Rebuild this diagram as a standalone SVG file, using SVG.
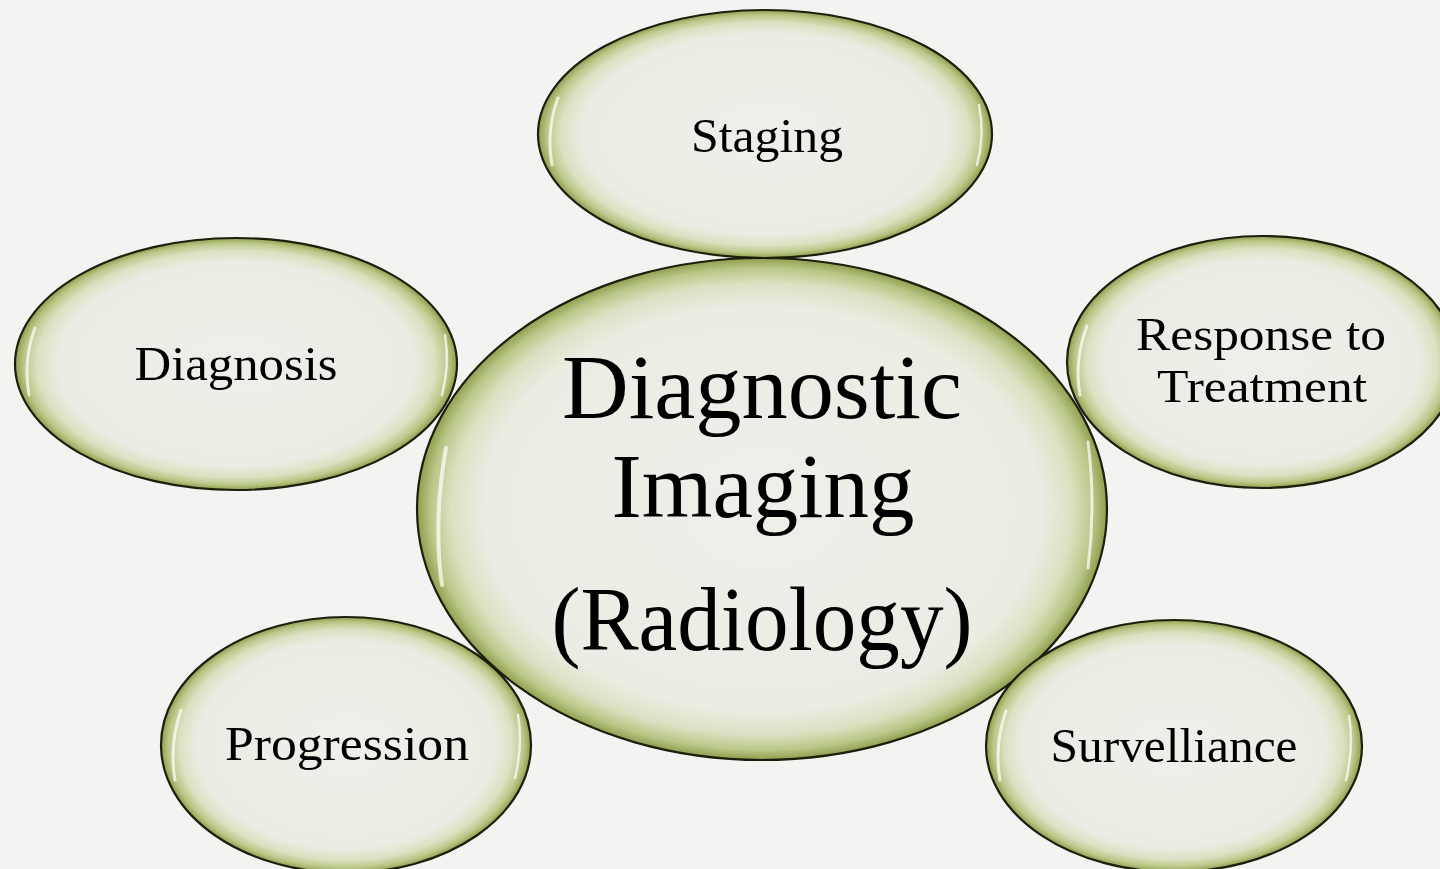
<svg xmlns="http://www.w3.org/2000/svg" width="1440" height="869" viewBox="0 0 1440 869">
<defs>
<radialGradient id="fillG" cx="0.5" cy="0.5" r="0.5">
<stop offset="0" stop-color="#eeefe9"/>
<stop offset="0.8" stop-color="#ebede4"/>
<stop offset="0.9" stop-color="#dbe1c2"/>
<stop offset="0.96" stop-color="#bac787"/>
<stop offset="1" stop-color="#8e9e4e"/>
</radialGradient>
</defs>
<style>
.node ellipse.b{fill:url(#fillG);stroke:#1c1f0c;stroke-width:2.2}
.node path.h{fill:none;stroke:#ffffff;stroke-opacity:0.7;stroke-linecap:round}
.node text{font-family:"Liberation Serif","Times New Roman",serif;fill:#000;text-anchor:middle}
</style>
<rect width="1440" height="869" fill="#f3f3f1"/>
<g id="connectors"></g>
<g id="center" class="node">
<ellipse class="b" cx="762" cy="509" rx="345" ry="251"/>
<path class="h" d="M442,585 Q433,520 446,448" stroke-width="4"/>
<path class="h" d="M1088,442 Q1096,505 1088,568" stroke-width="3"/>
<text x="762" y="418" font-size="92" textLength="400" lengthAdjust="spacingAndGlyphs">Diagnostic</text>
<text x="763" y="517" font-size="92" textLength="303" lengthAdjust="spacingAndGlyphs">Imaging</text>
<text x="762" y="650" font-size="92" textLength="421" lengthAdjust="spacingAndGlyphs">(Radiology)</text>
</g>
<g id="staging" class="node">
<ellipse class="b" cx="765" cy="134" rx="227" ry="124"/>
<path class="h" d="M552,165 Q546,130 558,98" stroke-width="3"/>
<path class="h" d="M979,105 Q985,135 977,165" stroke-width="2.5"/>
<text x="767" y="152" font-size="48" textLength="152" lengthAdjust="spacingAndGlyphs">Staging</text>
</g>
<g id="diagnosis" class="node">
<ellipse class="b" cx="236" cy="364" rx="221" ry="126"/>
<path class="h" d="M29,395 Q23,360 35,328" stroke-width="3"/>
<path class="h" d="M445,335 Q450,365 442,395" stroke-width="2.5"/>
<text x="236" y="380" font-size="48" textLength="203" lengthAdjust="spacingAndGlyphs">Diagnosis</text>
</g>
<g id="response" class="node">
<ellipse class="b" cx="1262" cy="362" rx="195" ry="126"/>
<path class="h" d="M1080,395 Q1074,360 1087,326" stroke-width="3"/>
<text x="1261" y="350" font-size="46" textLength="250" lengthAdjust="spacingAndGlyphs">Response to</text>
<text x="1262" y="402" font-size="46" textLength="210" lengthAdjust="spacingAndGlyphs">Treatment</text>
</g>
<g id="progression" class="node">
<ellipse class="b" cx="346" cy="745" rx="185" ry="128"/>
<path class="h" d="M175,780 Q169,745 181,710" stroke-width="3"/>
<path class="h" d="M518,715 Q523,745 515,778" stroke-width="2.5"/>
<text x="347" y="760" font-size="48" textLength="244" lengthAdjust="spacingAndGlyphs">Progression</text>
</g>
<g id="surveillance" class="node">
<ellipse class="b" cx="1174" cy="746" rx="188" ry="126"/>
<path class="h" d="M1000,780 Q994,745 1006,711" stroke-width="3"/>
<path class="h" d="M1349,716 Q1354,746 1346,780" stroke-width="2.5"/>
<text x="1174" y="762" font-size="48" textLength="247" lengthAdjust="spacingAndGlyphs">Survelliance</text>
</g>
</svg>
